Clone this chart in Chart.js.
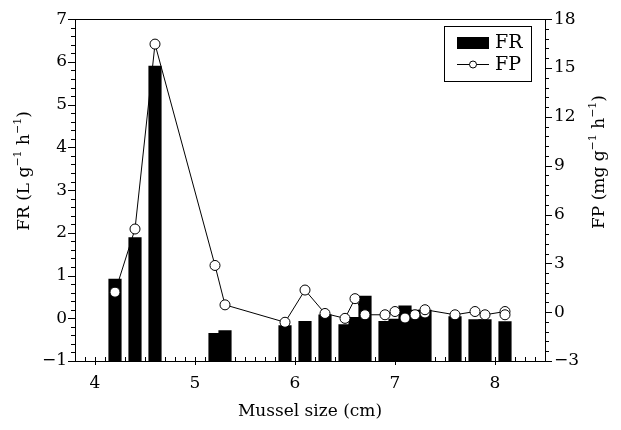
<!DOCTYPE html>
<html><head><meta charset="utf-8">
<script src="https://cdn.jsdelivr.net/npm/chart.js@4/dist/chart.umd.min.js"></script>
<style>html,body{margin:0;padding:0;background:#fff}#c{display:block}</style>
</head><body>
<canvas id="c" width="621" height="430"></canvas>
<script>
// ---- data ----
const xTicks = [4, 5, 6, 7, 8];
const frTicks = [-1, 0, 1, 2, 3, 4, 5, 6, 7];
const fpTicks = [-3, 0, 3, 6, 9, 12, 15, 18];

const frSizes  = [4.2, 4.4, 4.6, 5.2, 5.3, 5.9, 6.1, 6.3, 6.5, 6.6, 6.7, 6.9, 7.0, 7.1, 7.2, 7.3, 7.6, 7.8, 7.9, 8.1];
const frValues = [0.92, 1.89, 5.9, -0.35, -0.29, -0.17, -0.07, 0.08, -0.15, 0.02, 0.52, -0.07, -0.02, 0.29, 0.19, 0.19, 0.04, -0.03, -0.03, -0.08];

const fpSizes  = [4.2, 4.4, 4.6, 5.2, 5.3, 5.9, 6.1, 6.3, 6.5, 6.6, 6.7, 6.9, 7.0, 7.1, 7.2, 7.3, 7.3, 7.6, 7.8, 7.9, 8.1, 8.1];
const fpValues = [1.23, 5.11, 16.47, 2.87, 0.45, -0.62, 1.36, -0.08, -0.38, 0.83, -0.16, -0.16, 0.04, -0.36, -0.16, -0.05, 0.15, -0.16, 0.04, -0.16, 0.04, -0.16];

const FONT = "'DejaVu Serif', serif";
const minus = v => String(v).replace('-', '\u2212');

function drawRich(ctx, parts, x, y, size) {
  let total = 0;
  const widths = parts.map(([t, sup]) => {
    ctx.font = (sup ? Math.round(size * 0.65) : size) + 'px ' + FONT;
    const w = ctx.measureText(t).width; total += w; return w;
  });
  let cx = x - total / 2;
  parts.forEach(([t, sup], i) => {
    ctx.font = (sup ? Math.round(size * 0.65) : size) + 'px ' + FONT;
    ctx.fillText(t, cx, sup ? y - size * 0.38 : y);
    cx += widths[i];
  });
}

const decor = {
  id: 'decor',
  afterDraw(chart) {
    const ctx = chart.ctx;
    const a = chart.chartArea;
    const sx = chart.scales.x, sy = chart.scales.y, s2 = chart.scales.y2;
    ctx.save();
    ctx.strokeStyle = '#000'; ctx.fillStyle = '#000'; ctx.lineWidth = 1;
    ctx.beginPath(); ctx.moveTo(a.left, Math.round(a.top) + 0.5); ctx.lineTo(a.right, Math.round(a.top) + 0.5); ctx.stroke();
    ctx.beginPath();
    for (let k = 0; k <= 47; k++) {
      const v = 3.8 + k * 0.1;
      const px = Math.round(sx.getPixelForValue(v)) + 0.5;
      const major = Math.abs(v - Math.round(v)) < 1e-6;
      ctx.moveTo(px, a.bottom - 4); ctx.lineTo(px, a.bottom + (major ? 4 : 0));
    }
    for (let k = 0; k <= 40; k++) {
      const v = -1 + k * 0.2;
      const py = Math.round(sy.getPixelForValue(v)) + 0.5;
      const major = k % 5 === 0;
      ctx.moveTo(a.left, py); ctx.lineTo(a.left - (major ? 7 : 4), py);
    }
    for (let k = 0; k <= 35; k++) {
      const v = -3 + k * 0.6;
      const py = Math.round(s2.getPixelForValue(v)) + 0.5;
      const major = k % 5 === 0;
      ctx.moveTo(a.right, py); ctx.lineTo(a.right + (major ? 7 : 4), py);
    }
    ctx.stroke();

    ctx.textBaseline = 'middle';
    ctx.textAlign = 'left';
    drawRich(ctx, [['Mussel size (cm)', false]], (a.left + a.right) / 2, 412, 17);
    ctx.save(); ctx.translate(25, 171); ctx.rotate(-Math.PI / 2);
    drawRich(ctx, [['FR (L g', false], ['\u22121', true], [' h', false], ['\u22121', true], [')', false]], 0, 0, 17);
    ctx.restore();
    ctx.save(); ctx.translate(600, 162); ctx.rotate(-Math.PI / 2);
    drawRich(ctx, [['FP (mg g', false], ['\u22121', true], [' h', false], ['\u22121', true], [')', false]], 0, 0, 17);
    ctx.restore();

    ctx.strokeRect(444.5, 26.5, 87, 55);
    ctx.fillRect(457, 37, 32, 12);
    ctx.font = '19px ' + FONT;
    ctx.fillText('FR', 495, 43);
    ctx.fillText('FP', 495, 65);
    ctx.beginPath(); ctx.moveTo(457, 64.5); ctx.lineTo(489, 64.5); ctx.stroke();
    ctx.beginPath(); ctx.arc(473, 64.5, 3.5, 0, Math.PI * 2); ctx.fillStyle = '#fff'; ctx.fill(); ctx.stroke();
    ctx.restore();
  }
};

const tickFont = { family: FONT, size: 17 };

new Chart(document.getElementById('c').getContext('2d'), {
  type: 'bar',
  data: {
    datasets: [
      {
        type: 'line', label: 'FP', yAxisID: 'y2', xAxisID: 'x', order: 0,
        data: fpSizes.map((x, i) => ({ x, y: fpValues[i] })),
        borderColor: '#000', borderWidth: 1, tension: 0, fill: false,
        pointRadius: 5, pointBackgroundColor: '#fff', pointBorderColor: '#000', pointBorderWidth: 1
      },
      {
        type: 'bar', label: 'FR', yAxisID: 'y', xAxisID: 'x', order: 1,
        data: frSizes.map((x, i) => ({ x, y: frValues[i] })),
        backgroundColor: '#000', borderWidth: 0, barThickness: 12.5, base: -1
      }
    ]
  },
  options: {
    responsive: false, animation: false, devicePixelRatio: 1,
    layout: { padding: { top: 14, left: 0, right: 0, bottom: 0 } },
    plugins: { legend: { display: false }, tooltip: { enabled: false } },
    scales: {
      x: {
        type: 'linear', position: 'bottom', min: 3.8, max: 8.5, offset: false,
        grid: { display: false, drawTicks: false },
        border: { display: true, color: '#000', width: 1 },
        ticks: { font: tickFont, color: '#000', padding: 12, callback: v => minus(v) },
        afterBuildTicks: s => { s.ticks = xTicks.map(v => ({ value: v })); },
        afterFit: s => { s.height = 69; }
      },
      y: {
        type: 'linear', position: 'left', min: -1, max: 7,
        grid: { display: false, drawTicks: false },
        border: { display: true, color: '#000', width: 1 },
        ticks: { font: tickFont, color: '#000', padding: 8, callback: v => minus(v) },
        afterBuildTicks: s => { s.ticks = frTicks.map(v => ({ value: v })); },
        afterFit: s => { s.width = 75; }
      },
      y2: {
        type: 'linear', position: 'right', min: -3, max: 18,
        grid: { display: false, drawTicks: false },
        border: { display: true, color: '#000', width: 1 },
        ticks: { font: tickFont, color: '#000', padding: 9, callback: v => minus(v) },
        afterBuildTicks: s => { s.ticks = fpTicks.map(v => ({ value: v })); },
        afterFit: s => { s.width = 76; }
      }
    }
  },
  plugins: [decor]
});
</script>
</body></html>
